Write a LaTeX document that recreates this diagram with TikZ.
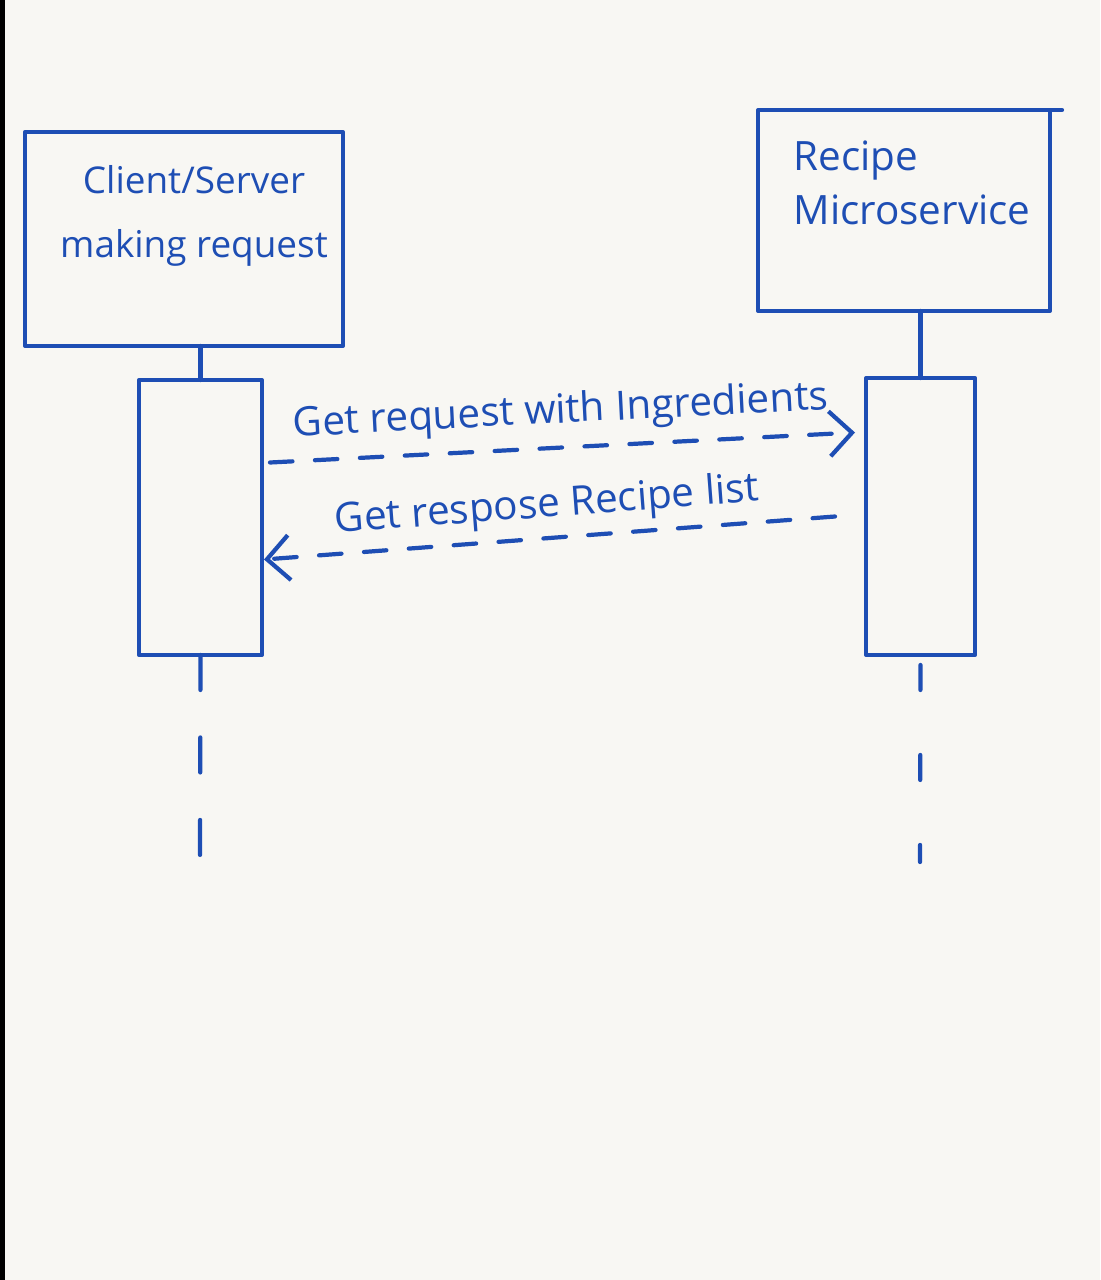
\documentclass[tikz,border=0pt]{standalone}
\usepackage{fontspec}
\setmainfont{Open Sans}
\usetikzlibrary{arrows.meta}
\definecolor{ink}{RGB}{30,78,180}
\definecolor{paper}{RGB}{248,247,243}
\tikzset{
  hand/.style={draw=ink, line width=2.4pt, line cap=round, line join=round},
  lifebox/.style={hand, rectangle, inner sep=0pt, outer sep=0pt},
  handtext/.style={text=ink, font=\fontsize{23}{36}\selectfont},
  msg/.style={hand, dash pattern=on 0.45cm off 0.45cm},
  barb/.style={-{Straight Barb[length=0.45cm, width=0.9cm, line width=2.4pt]}},
}

\begin{document}
\begin{tikzpicture}[x=0.02cm, y=-0.02cm]
    \fill[paper] (0,0) rectangle (1100,1280);
    \fill[black] (0,0) rectangle (5,1280);

    % participants
    \node[lifebox, minimum width=6.36cm, minimum height=4.28cm] (client) at (184,239) {};
    \node[handtext, align=center, font=\fontsize{21}{36}\selectfont] (clientlabel) at (194,216) {Client/Server\\making request};
    \node[lifebox, minimum width=5.84cm, minimum height=4.02cm] (recipe) at (904,210.5) {};
    \node[handtext, align=left, font=\fontsize{23}{31}\selectfont] (recipelabel) at (912,183) {Recipe\\Microservice};
    \draw[hand] (recipe.north east) -- ++(12,0);

    % activations
    \node[lifebox, minimum width=2.46cm, minimum height=5.5cm] (act1) at (200.5,517.5) {};
    \node[lifebox, minimum width=2.18cm, minimum height=5.54cm] (act2) at (920.5,516.5) {};
    \draw[hand] (client.south -| act1.north) -- (act1.north);
    \draw[hand] (recipe.south -| act2.north) -- (act2.north);

    % lifelines below
    \coordinate (end1) at (200,862);
    \coordinate (end2) at (920,862);
    \draw[hand, dash pattern=on 0.7cm off 0.95cm] (act1.south) -- (end1);
    \draw[hand, dash pattern=on 0.5cm off 1.3cm, dash phase=1.6cm] (act2.south) -- (end2);

    % messages
    \draw[msg, barb] ([shift={(8,-55)}]act1.east) -- ([shift={(-11,-84)}]act2.west)
      node[midway, above=4pt, sloped, handtext] (reqlabel) {Get request with Ingredients};
    \draw[msg, barb] ([shift={(-31,0)}]act2.west) -- ([shift={(2,42)}]act1.east)
      node[midway, above=2pt, sloped, handtext] (resplabel) {Get respose Recipe list};
\end{tikzpicture}
\end{document}
